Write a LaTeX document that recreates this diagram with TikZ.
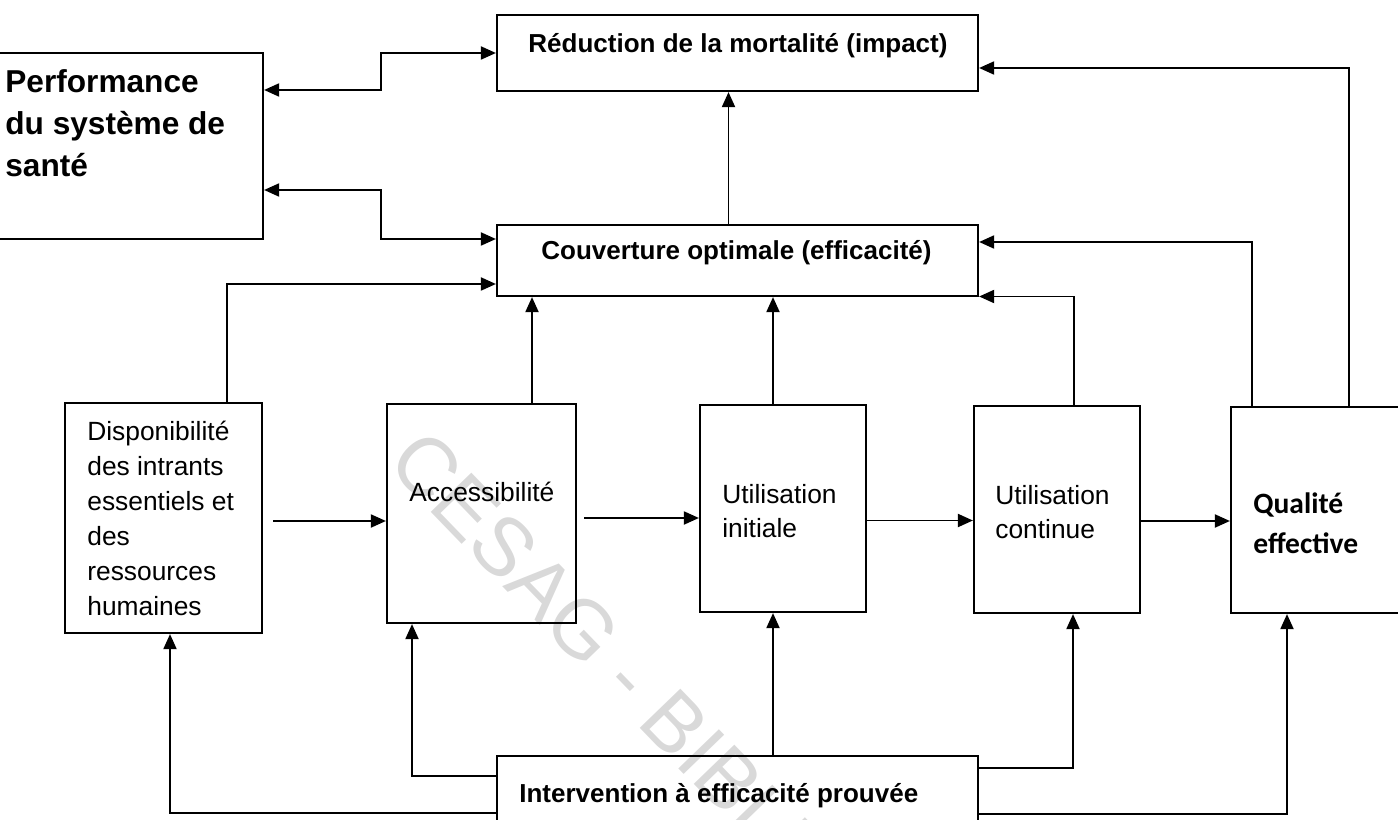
\documentclass[tikz,border=0pt]{standalone}
\usepackage{fontspec}
\setmainfont{Liberation Sans}
\newfontfamily\qualfont{Carlito}
\usepackage{tikz}
\usetikzlibrary{arrows.meta, positioning}

\begin{document}
\begin{tikzpicture}[>={Triangle[length=0.30cm, width=0.26cm]},
        box/.style={draw=black, line width=1.25pt, inner sep=0pt},
        conn/.style={line width=1.1pt},
        txt/.style={anchor=base west, inner sep=0pt, align=flush left, font=\fontsize{15}{20}\selectfont},
        head/.style={anchor=base, inner sep=0pt, font=\bfseries\fontsize{14.8}{18}\selectfont}]

  \useasboundingbox (0,0) rectangle (27.96,-16.40);

  % filigrane
  \begin{scope}
    \clip (0,0) rectangle (27.96,-16.40);
    \node[anchor=west, inner sep=0pt, rotate=-46, text=black!15, font=\fontsize{46.7}{50}\selectfont] (wm) at (8.00,-9.00) {CESAG - BIBLIOTHEQUE};
  \end{scope}

  \node[box, minimum width=5.46cm, minimum height=3.72cm] (perf)   at (2.53,-2.92)  {};
  \node[box, minimum width=9.62cm, minimum height=1.52cm] (reduc)  at (14.75,-1.06) {};
  \node[box, minimum width=9.62cm, minimum height=1.42cm] (couv)   at (14.75,-5.21) {};
  \node[box, minimum width=3.94cm, minimum height=4.60cm] (disp)   at (3.27,-10.36) {};
  \node[box, minimum width=3.78cm, minimum height=4.38cm] (acces)  at (9.63,-10.27) {};
  \node[box, minimum width=3.32cm, minimum height=4.14cm] (util1)  at (15.66,-10.17) {};
  \node[box, minimum width=3.32cm, minimum height=4.14cm] (util2)  at (21.14,-10.19) {};
  \node[box, minimum width=3.58cm, minimum height=4.12cm] (qual)   at (26.41,-10.20) {};
  \node[box, minimum width=9.62cm, minimum height=1.68cm] (interv) at (14.75,-15.96) {};

  \node[txt, text width=5.2cm, font=\bfseries\fontsize{18}{23.9}\selectfont] (perft) at (0.10,-1.86) {Performance\\du système de\\santé};
  \node[head] (reduct) at (14.76,-1.06) {Réduction de la mortalité (impact)};
  \node[head] (couvt)  at (14.73,-5.20) {Couverture optimale (efficacité)};
  \node[txt, text width=3.6cm] (dispt) at (1.74,-8.80) {Disponibilité\\des intrants\\essentiels et\\des\\ressources\\humaines};
  \node[txt] (accest) at (8.18,-10.02) {Accessibilité};
  \node[txt, text width=3cm, font=\fontsize{15}{19.4}\selectfont] (util1t) at (14.44,-10.06) {Utilisation\\initiale};
  \node[txt, text width=3cm, font=\fontsize{15}{19.4}\selectfont] (util2t) at (19.90,-10.08) {Utilisation\\continue};
  \node[txt, text width=3.2cm, font=\qualfont\bfseries\fontsize{16.8}{22.8}\selectfont] (qualt) at (25.06,-10.26) {Qualité\\effective};
  \node[head, anchor=base west] (intervt) at (10.38,-16.04) {Intervention à efficacité prouvée};

  % liens vers le haut
  \draw[<->, conn] (reduc.west) -- ++(-2.30,0) |- ([yshift=1.12cm]perf.east);
  \draw[<->, conn] ([yshift=0.43cm]couv.west) -- ++(-2.30,0) |- ([yshift=-0.88cm]perf.east);
  \draw[->, conn] ([xshift=-0.18cm]couv.north) -- ([xshift=-0.18cm]reduc.south);
  \draw[->, conn] ([xshift=1.27cm]disp.north) |- ([yshift=-0.47cm]couv.west);
  \draw[->, conn] ([xshift=1.01cm]acces.north) -- ([xshift=1.01cm]acces.north |- couv.south);
  \draw[->, conn] ([xshift=-0.20cm]util1.north) -- ([xshift=-0.20cm]util1.north |- couv.south);
  \draw[->, conn] ([xshift=0.34cm]util2.north) |- ([yshift=-0.72cm]couv.east);
  \draw[->, conn] ([xshift=-1.37cm]qual.north) |- ([yshift=0.37cm]couv.east);
  \draw[->, conn] ([xshift=0.57cm]qual.north) |- ([yshift=-0.30cm]reduc.east);

  % chaine horizontale
  \draw[->, conn, shorten <=0.2cm] ([yshift=-0.06cm]disp.east) -- ([yshift=-0.06cm]disp.east -| acces.west);
  \draw[->, conn, shorten <=0.14cm] ([yshift=-0.09cm]acces.east) -- ([yshift=-0.09cm]acces.east -| util1.west);
  \draw[->, conn] ([yshift=-0.24cm]util1.east) -- ([yshift=-0.24cm]util1.east -| util2.west);
  \draw[->, conn] ([yshift=-0.23cm]util2.east) -- ([yshift=-0.23cm]util2.east -| qual.west);

  % intervention
  \draw[->, conn] ([yshift=-0.30cm]interv.west) -| ([xshift=0.13cm]disp.south);
  \draw[->, conn] ([yshift=0.44cm]interv.west) -| ([xshift=-1.39cm]acces.south);
  \draw[->, conn] ([xshift=-0.20cm]util1.south |- interv.north) -- ([xshift=-0.20cm]util1.south);
  \draw[->, conn] ([yshift=0.60cm]interv.east) -| ([xshift=0.32cm]util2.south);
  \draw[->, conn] ([yshift=-0.32cm]interv.east) -| ([xshift=-0.67cm]qual.south);
\end{tikzpicture}
\end{document}
